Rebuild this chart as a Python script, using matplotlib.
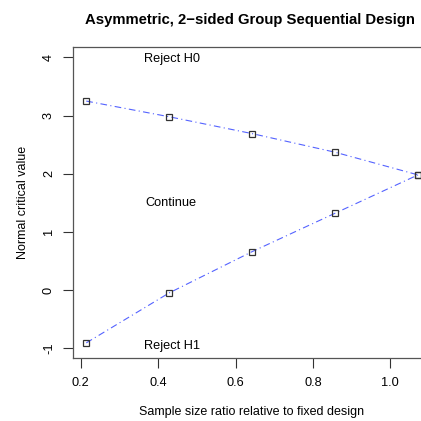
import matplotlib
matplotlib.use("Agg")
import matplotlib.pyplot as plt

plt.rcParams['font.family'] = ['Liberation Sans', 'DejaVu Sans']

# Sample size ratio at each analysis and the bound values
ratio = [0.2143, 0.4286, 0.6429, 0.8571, 1.0714]
upper = [3.25, 2.98, 2.69, 2.37, 1.98]
lower = [-0.91, -0.05, 0.66, 1.32, 1.98]

xticks = [0.2, 0.4, 0.6, 0.8, 1.0]
xticklabels = ["0.2", "0.4", "0.6", "0.8", "1.0"]
yticks = [-1, 0, 1, 2, 3, 4]

fig = plt.figure(figsize=(4.21, 4.21), dpi=100)
# plot box runs past the right edge like the original
ax = fig.add_axes([73 / 421, 1 - 358 / 421, (431 - 73) / 421, (358 - 47) / 421])

for bound in (upper, lower):
    ax.plot(ratio, bound, color='#2a3cff', linestyle='-.', linewidth=0.8,
            dashes=(6, 3, 1, 3), alpha=0.8)
    ax.plot(ratio, bound, linestyle='none', marker='s', markersize=4.5,
            markerfacecolor='none', markeredgecolor='#333333', markeredgewidth=0.9)

ax.set_xlim(0.18, 1.105)
ax.set_ylim(-1.17, 4.18)

ax.text(0.435, 3.97, "Reject H0", ha='center', va='center', fontsize=9.2)
ax.text(0.433, 1.49, "Continue", ha='center', va='center', fontsize=9.2)
ax.text(0.435, -0.96, "Reject H1", ha='center', va='center', fontsize=9.2)

ax.set_xticks(xticks)
ax.set_xticklabels(xticklabels)
ax.set_yticks(yticks)
ax.set_yticklabels([str(v) for v in yticks], rotation=90, va='center')
ax.tick_params(direction='out', length=7, width=0.8, labelsize=9.2,
               color='#333333')
ax.tick_params(axis='x', pad=7)
ax.tick_params(axis='y', pad=6)
for sp in ax.spines.values():
    sp.set_linewidth(0.9)
    sp.set_color('#555555')

ax.set_xlabel("Sample size ratio relative to fixed design", fontsize=9, labelpad=12)
ax.set_ylabel("Normal critical value", fontsize=9, labelpad=10)
fig.text(250 / 421, 1 - 20 / 421, "Asymmetric, 2\u2212sided Group Sequential Design",
         ha='center', va='center', fontsize=10.7, fontweight='bold')

fig.savefig("out.png", dpi=100)
